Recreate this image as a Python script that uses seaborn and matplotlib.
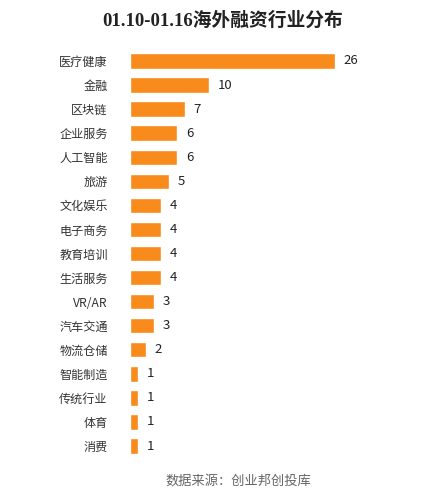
import pandas as pd
import matplotlib
matplotlib.use("Agg")
import matplotlib.pyplot as plt
import seaborn as sns

industries = ["医疗健康", "金融", "区块链", "企业服务", "人工智能", "旅游", "文化娱乐",
              "电子商务", "教育培训", "生活服务", "VR/AR", "汽车交通", "物流仓储",
              "智能制造", "传统行业", "体育", "消费"]
counts = [26, 10, 7, 6, 6, 5, 4, 4, 4, 4, 3, 3, 2, 1, 1, 1, 1]

df = pd.DataFrame({"industry": industries, "count": counts})

sns.set_theme(style="white")
plt.rcParams["font.family"] = ["Noto Sans CJK SC", "DejaVu Sans"]

fig = plt.figure(figsize=(4.26, 4.99), dpi=100)
ax = fig.add_axes([0.305, 0.082, 0.555, 0.820])

sns.barplot(data=df, x="count", y="industry", color="#F98B1C", width=0.64,
            saturation=1, ax=ax)

for i, v in enumerate(counts):
    ax.text(v + 1.1, i, str(v), va="center", ha="left", fontsize=9.5, color="#222222")

ax.set_xlim(0, 30)
ax.set_xlabel("")
ax.set_ylabel("")
ax.set_xticks([])
ax.tick_params(axis="y", length=0, pad=16, labelsize=8.7, labelcolor="#333333")
sns.despine(ax=ax, left=True, bottom=True)

fig.text(0.522, 0.958, "01.10-01.16海外融资行业分布", ha="center", va="center",
         fontsize=13.5, fontweight="bold", color="#222222",
         family=["Liberation Serif", "Noto Sans CJK SC"])
fig.text(0.56, 0.036, "数据来源：创业邦创投库", ha="center", va="center",
         fontsize=9.5, color="#666666")

fig.savefig("out.png", dpi=100)
